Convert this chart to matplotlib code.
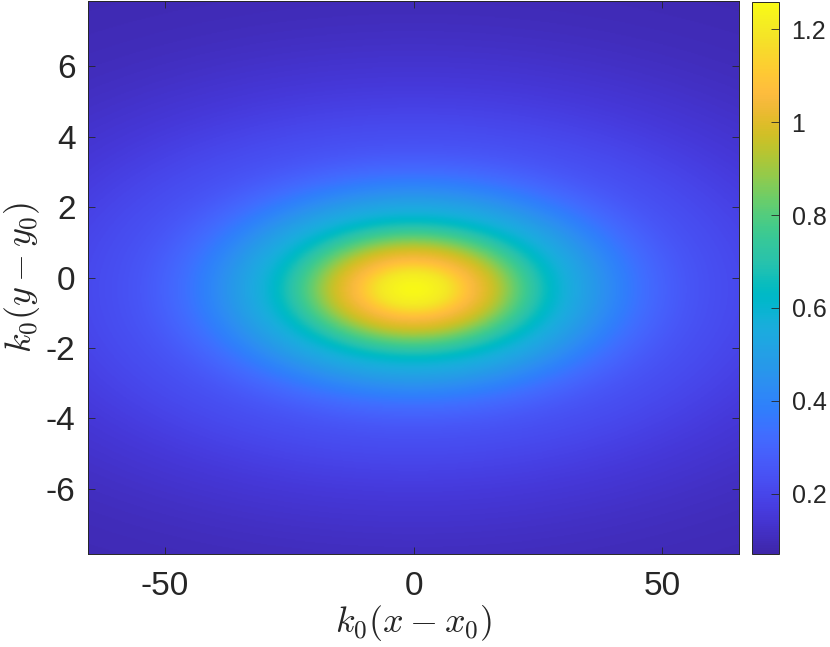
import numpy as np
import matplotlib
matplotlib.use("Agg")
import matplotlib.pyplot as plt
from matplotlib.colors import LinearSegmentedColormap
from matplotlib.ticker import FuncFormatter

# ---- data ----
x_limits = [-65.5, 65.5]
y_limits = [-7.85, 7.85]
peak_x = 0.0
peak_y = -0.33
# ratio of horizontal to vertical extent of the elliptical contours
contour_aspect = 14.0
# vertical distance from the peak (y units) and the value there
profile_r = [0.0, 0.4, 0.8, 1.1, 1.5, 2.0, 2.45, 3.0, 3.4, 4.0, 4.7, 6.0, 8.0, 9.6]
profile_v = [1.25, 1.21, 1.07, 0.98, 0.81, 0.62, 0.51, 0.39, 0.32, 0.25, 0.21, 0.15, 0.10, 0.085]
color_limits = [0.07, 1.259]
x_ticks = [-50, 0, 50]
y_ticks = [-6, -4, -2, 0, 2, 4, 6]
cbar_ticks = [0.2, 0.4, 0.6, 0.8, 1.0, 1.2]

# MATLAB parula colormap (64 entries)
parula = [
    [0.2422, 0.1504, 0.6603], [0.2504, 0.1650, 0.7076], [0.2578, 0.1818, 0.7511], [0.2647, 0.1978, 0.7952],
    [0.2706, 0.2147, 0.8364], [0.2751, 0.2342, 0.8710], [0.2783, 0.2559, 0.8991], [0.2803, 0.2782, 0.9221],
    [0.2813, 0.3006, 0.9414], [0.2810, 0.3228, 0.9579], [0.2795, 0.3447, 0.9717], [0.2760, 0.3667, 0.9829],
    [0.2699, 0.3892, 0.9906], [0.2602, 0.4123, 0.9952], [0.2440, 0.4358, 0.9988], [0.2206, 0.4603, 0.9973],
    [0.1963, 0.4847, 0.9892], [0.1834, 0.5074, 0.9798], [0.1786, 0.5289, 0.9682], [0.1764, 0.5499, 0.9520],
    [0.1687, 0.5703, 0.9359], [0.1540, 0.5902, 0.9218], [0.1460, 0.6091, 0.9079], [0.1380, 0.6276, 0.8973],
    [0.1248, 0.6459, 0.8883], [0.1113, 0.6635, 0.8763], [0.0952, 0.6798, 0.8598], [0.0689, 0.6948, 0.8394],
    [0.0297, 0.7082, 0.8163], [0.0036, 0.7203, 0.7917], [0.0067, 0.7312, 0.7660], [0.0433, 0.7411, 0.7394],
    [0.0964, 0.7500, 0.7120], [0.1408, 0.7584, 0.6842], [0.1717, 0.7670, 0.6554], [0.1938, 0.7758, 0.6251],
    [0.2161, 0.7843, 0.5923], [0.2470, 0.7918, 0.5567], [0.2906, 0.7973, 0.5188], [0.3406, 0.8008, 0.4789],
    [0.3909, 0.8029, 0.4354], [0.4456, 0.8024, 0.3909], [0.5044, 0.7993, 0.3480], [0.5616, 0.7942, 0.3045],
    [0.6174, 0.7876, 0.2612], [0.6720, 0.7793, 0.2227], [0.7242, 0.7698, 0.1910], [0.7738, 0.7598, 0.1646],
    [0.8203, 0.7498, 0.1535], [0.8634, 0.7406, 0.1596], [0.9035, 0.7330, 0.1774], [0.9393, 0.7288, 0.2100],
    [0.9728, 0.7298, 0.2394], [0.9956, 0.7434, 0.2371], [0.9970, 0.7659, 0.2199], [0.9952, 0.7893, 0.2028],
    [0.9892, 0.8136, 0.1885], [0.9786, 0.8386, 0.1766], [0.9676, 0.8639, 0.1643], [0.9610, 0.8890, 0.1537],
    [0.9597, 0.9135, 0.1423], [0.9628, 0.9373, 0.1265], [0.9691, 0.9606, 0.1064], [0.9769, 0.9839, 0.0805],
]
cmap = LinearSegmentedColormap.from_list("parula", parula, N=256)


def pchip(xk, yk, x):
    xk = np.asarray(xk, float)
    yk = np.asarray(yk, float)
    h = np.diff(xk)
    d = np.diff(yk) / h
    m = np.zeros_like(yk)
    for k in range(1, len(xk) - 1):
        if d[k - 1] * d[k] > 0:
            w1 = 2 * h[k] + h[k - 1]
            w2 = h[k] + 2 * h[k - 1]
            m[k] = (w1 + w2) / (w1 / d[k - 1] + w2 / d[k])
    m[0] = 0.0
    m[-1] = d[-1]
    x = np.clip(x, xk[0], xk[-1])
    i = np.clip(np.searchsorted(xk, x) - 1, 0, len(xk) - 2)
    t = (x - xk[i]) / h[i]
    h00 = 2 * t**3 - 3 * t**2 + 1
    h10 = t**3 - 2 * t**2 + t
    h01 = -2 * t**3 + 3 * t**2
    h11 = t**3 - t**2
    return h00 * yk[i] + h10 * h[i] * m[i] + h01 * yk[i + 1] + h11 * h[i] * m[i + 1]


xs = np.linspace(x_limits[0], x_limits[1], 600)
ys = np.linspace(y_limits[0], y_limits[1], 500)
X, Y = np.meshgrid(xs, ys)
R = np.sqrt(((X - peak_x) / contour_aspect) ** 2 + (Y - peak_y) ** 2)
Z = pchip(profile_r, profile_v, R)

plt.rcParams["axes.unicode_minus"] = False
plt.rcParams["mathtext.fontset"] = "cm"
plt.rcParams["font.family"] = ["Liberation Sans", "DejaVu Sans"]
text_color = "#262626"

fig = plt.figure(figsize=(8.30, 6.47), dpi=100)
ax = fig.add_axes([88 / 830, 1 - 554 / 647, (739 - 88) / 830, 553 / 647])
im = ax.imshow(Z, extent=[x_limits[0], x_limits[1], y_limits[0], y_limits[1]],
               origin="lower", aspect="auto", cmap=cmap,
               vmin=color_limits[0], vmax=color_limits[1], interpolation="bilinear")
ax.set_xlim(x_limits)
ax.set_ylim(y_limits)
ax.set_xticks(x_ticks)
ax.set_yticks(y_ticks)
ax.tick_params(direction="in", length=5, width=0.6, colors=text_color,
               labelsize=24, top=True, right=True)
ax.tick_params(axis="x", pad=12)
ax.tick_params(axis="y", pad=9)
for s in ax.spines.values():
    s.set_color(text_color)
    s.set_linewidth(0.7)
ax.set_xlabel(r"$k_0(x-x_0)$", fontsize=26, color=text_color, labelpad=1)
ax.set_ylabel(r"$k_0(y-y_0)$", fontsize=26, color=text_color, labelpad=3)

cax = fig.add_axes([752 / 830, 1 - 554 / 647, 27 / 830, 552 / 647])
cb = fig.colorbar(im, cax=cax, ticks=cbar_ticks)
cb.ax.yaxis.set_major_formatter(FuncFormatter(lambda v, p: "%g" % round(v, 2)))
cb.ax.tick_params(direction="in", length=6, width=0.6, colors=text_color, labelsize=18, pad=9)
cb.outline.set_edgecolor(text_color)
cb.outline.set_linewidth(0.7)

fig.savefig("out.png", dpi=100)
